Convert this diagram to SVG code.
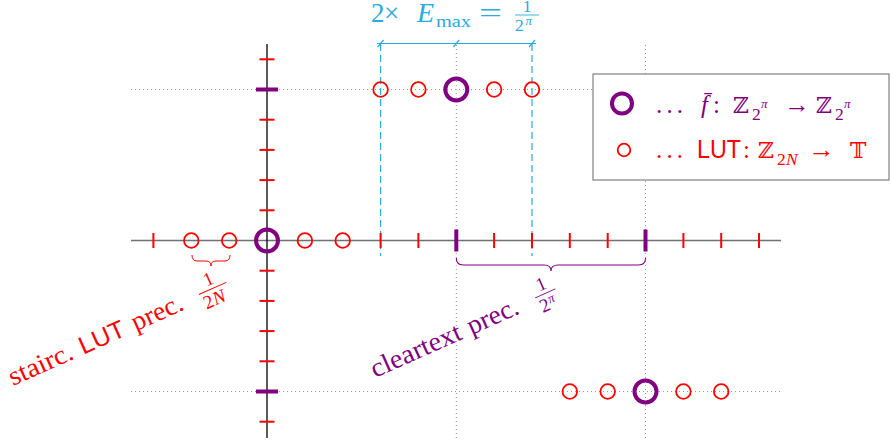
<svg xmlns="http://www.w3.org/2000/svg" width="891" height="445" viewBox="0 0 891 445">
<style>
.dot{stroke:#9a9a9a;stroke-width:1;stroke-dasharray:1 3;fill:none}
.rt{stroke:#ff0000;stroke-width:2;fill:none}
.pt{stroke:#800080;stroke-width:4;fill:none}
.rc{stroke:#ff0000;stroke-width:1.8;fill:none}
.pc{stroke:#800080;stroke-width:4;fill:none}
.cy{stroke:#29abe2;stroke-width:1.2;fill:none}
.cyd{stroke:#29abe2;stroke-width:1.2;stroke-dasharray:7 4;fill:none}
.s{font-family:'Liberation Serif','DejaVu Serif',serif;font-size:25px}
.l{font-size:27px}
.ss{font-family:'Liberation Sans','DejaVu Sans',sans-serif;font-size:25px}
.bb{font-family:'DejaVu Serif','DejaVu Sans',serif;font-size:22px}
.i{font-style:italic}
.sub{font-size:17.5px}
.fr{font-size:19px}
.sup{font-size:13px}
.red{fill:#ff0000}
.pur{fill:#800080}
.cyt{fill:#29abe2}
</style>
<g id="grid">
<line class="dot" x1="131" y1="89.5" x2="781" y2="89.5"/>
<line class="dot" x1="131" y1="391.5" x2="781" y2="391.5"/>
<line class="dot" x1="456.3" y1="45" x2="456.3" y2="438"/>
<line class="dot" x1="645.5" y1="45" x2="645.5" y2="438"/>
</g>
<g id="axes">
<line x1="131" y1="240.5" x2="781" y2="240.5" stroke="#707070" stroke-width="1.5"/>
<line x1="267" y1="44" x2="267" y2="438" stroke="#000" stroke-width="1.3"/>
</g>
<g id="connectors">
<line class="cyd" x1="380.6" y1="44" x2="380.6" y2="256"/>
<line class="cyd" x1="532" y1="44" x2="532" y2="256"/>
<line class="cy" x1="377" y1="43.5" x2="536" y2="43.5"/>
<line class="cy" x1="377.6" y1="47" x2="383.6" y2="40"/>
<line class="cy" x1="453.3" y1="47" x2="459.3" y2="40"/>
<line class="cy" x1="529" y1="47" x2="535" y2="40"/>
<path d="M192,255 Q192,261 197,261 L206,261 Q211,261 211,266 Q211,261 216,261 L225,261 Q230,261 230,255" stroke="#ff0000" stroke-width="1" fill="none"/>
<path d="M456.3,258 Q456.3,265 463.3,265 L544,265 Q551,265 551,271 Q551,265 558,265 L638.5,265 Q645.5,265 645.5,258" stroke="#800080" stroke-width="1.1" fill="none"/>
</g>
<g id="hticks">
<line class="rt" x1="153.4" y1="233" x2="153.4" y2="248"/>
<line class="rt" x1="380.6" y1="233" x2="380.6" y2="248"/>
<line class="rt" x1="418.4" y1="233" x2="418.4" y2="248"/>
<line class="rt" x1="494.1" y1="233" x2="494.1" y2="248"/>
<line class="rt" x1="532" y1="233" x2="532" y2="248"/>
<line class="rt" x1="569.8" y1="233" x2="569.8" y2="248"/>
<line class="rt" x1="607.7" y1="233" x2="607.7" y2="248"/>
<line class="rt" x1="683.4" y1="233" x2="683.4" y2="248"/>
<line class="rt" x1="721.2" y1="233" x2="721.2" y2="248"/>
<line class="rt" x1="759" y1="233" x2="759" y2="248"/>
<line class="pt" x1="456.3" y1="229.5" x2="456.3" y2="251.5"/>
<line class="pt" x1="645.5" y1="229.5" x2="645.5" y2="251.5"/>
</g>
<g id="vticks">
<line class="rt" x1="259.5" y1="59.3" x2="274.5" y2="59.3"/>
<line class="rt" x1="259.5" y1="119.7" x2="274.5" y2="119.7"/>
<line class="rt" x1="259.5" y1="149.9" x2="274.5" y2="149.9"/>
<line class="rt" x1="259.5" y1="180.1" x2="274.5" y2="180.1"/>
<line class="rt" x1="259.5" y1="210.3" x2="274.5" y2="210.3"/>
<line class="rt" x1="259.5" y1="270.7" x2="274.5" y2="270.7"/>
<line class="rt" x1="259.5" y1="300.9" x2="274.5" y2="300.9"/>
<line class="rt" x1="259.5" y1="331.1" x2="274.5" y2="331.1"/>
<line class="rt" x1="259.5" y1="361.3" x2="274.5" y2="361.3"/>
<line class="rt" x1="259.5" y1="421.7" x2="274.5" y2="421.7"/>
<line class="pt" x1="256" y1="89.5" x2="278" y2="89.5"/>
<line class="pt" x1="256" y1="391.5" x2="278" y2="391.5"/>
</g>
<g id="row-axis">
<circle class="rc" cx="191.3" cy="240.5" r="7.3"/>
<circle class="rc" cx="229.2" cy="240.5" r="7.3"/>
<circle class="rc" cx="304.9" cy="240.5" r="7.3"/>
<circle class="rc" cx="342.7" cy="240.5" r="7.3"/>
<circle class="pc" cx="267" cy="240.5" r="11"/>
</g>
<g id="row-top">
<circle class="rc" cx="380.6" cy="89.5" r="7.3"/>
<circle class="rc" cx="418.4" cy="89.5" r="7.3"/>
<circle class="rc" cx="494.1" cy="89.5" r="7.3"/>
<circle class="rc" cx="532" cy="89.5" r="7.3"/>
<circle class="pc" cx="456.3" cy="89.5" r="11"/>
</g>
<g id="row-bottom">
<circle class="rc" cx="569.8" cy="391.5" r="7.3"/>
<circle class="rc" cx="607.7" cy="391.5" r="7.3"/>
<circle class="rc" cx="683.4" cy="391.5" r="7.3"/>
<circle class="rc" cx="721.2" cy="391.5" r="7.3"/>
<circle class="pc" cx="645.5" cy="391.5" r="11"/>
</g>
<g id="emax-label" class="cyt">
<text class="s l" x="371" y="21.5">2</text>
<text class="s l" x="384" y="21.5">×</text>
<text class="s i" x="417" y="21.5" style="font-size:28px">E</text>
<text class="s sub" x="436" y="26.5" textLength="35" lengthAdjust="spacingAndGlyphs">max</text>
<text class="s l" x="479" y="21.5" textLength="23" lengthAdjust="spacingAndGlyphs">=</text>
<text class="s sub" x="527" y="12" text-anchor="middle">1</text>
<line x1="515" y1="15" x2="539" y2="15" stroke="#29abe2" stroke-width="0.9"/>
<text class="s sub" x="515" y="31">2</text>
<text class="s sup i" x="525.5" y="24.5">π</text>
</g>
<g id="lut-label" class="red" transform="translate(13,386) rotate(-24)">
<text class="s l" x="0" y="0" textLength="68" lengthAdjust="spacingAndGlyphs">stairc.</text>
<text class="ss l" x="77" y="0" textLength="48" lengthAdjust="spacingAndGlyphs">LUT</text>
<text class="s l" x="134.5" y="0" textLength="54" lengthAdjust="spacingAndGlyphs">prec.</text>
<text class="s fr" x="222" y="-12" text-anchor="middle">1</text>
<line x1="207" y1="-8" x2="237" y2="-8" stroke="#ff0000" stroke-width="0.9"/>
<text class="s fr" x="208" y="9">2</text>
<text class="s fr i" x="218" y="9">N</text>
</g>
<g id="clear-label" class="pur" transform="translate(375,378) rotate(-24)">
<text class="s l" x="0" y="0" textLength="97" lengthAdjust="spacingAndGlyphs">cleartext</text>
<text class="s l" x="105.6" y="0" textLength="54" lengthAdjust="spacingAndGlyphs">prec.</text>
<text class="s fr" x="190" y="-12" text-anchor="middle">1</text>
<line x1="179" y1="-8" x2="201" y2="-8" stroke="#800080" stroke-width="0.9"/>
<text class="s fr" x="180" y="9">2</text>
<text class="s sup i" x="190" y="3">π</text>
</g>
<g id="legend">
<rect x="593" y="74" width="296" height="106" fill="#fff" stroke="#808080" stroke-width="1.2"/>
<circle class="pc" cx="622" cy="103.5" r="10"/>
<g class="pur">
<text class="s" x="656" y="113" textLength="27" lengthAdjust="spacing">. . .</text>
<text class="s i" x="701" y="113">f̄</text>
<text class="s" x="713" y="113">:</text>
<text class="bb" x="733" y="113">ℤ</text>
<text class="s sub" x="752" y="120">2</text>
<text class="s sup i" x="761" y="108">π</text>
<text class="s" x="784" y="113" textLength="26" lengthAdjust="spacingAndGlyphs">→</text>
<text class="bb" x="816" y="113">ℤ</text>
<text class="s sub" x="835" y="120">2</text>
<text class="s sup i" x="844" y="108">π</text>
</g>
<circle class="rc" cx="624" cy="150" r="6.3"/>
<g class="red">
<text class="s" x="656" y="158" textLength="27" lengthAdjust="spacing">. . .</text>
<text class="ss" x="697" y="158" textLength="44" lengthAdjust="spacingAndGlyphs">LUT</text>
<text class="s" x="743" y="158">:</text>
<text class="bb" x="758" y="158">ℤ</text>
<text class="s sub" x="777" y="165">2</text>
<text class="s sub i" x="786" y="165">N</text>
<text class="s" x="808" y="158" textLength="27" lengthAdjust="spacingAndGlyphs">→</text>
<text class="bb" x="850" y="158">𝕋</text>
</g>
</g>
</svg>
